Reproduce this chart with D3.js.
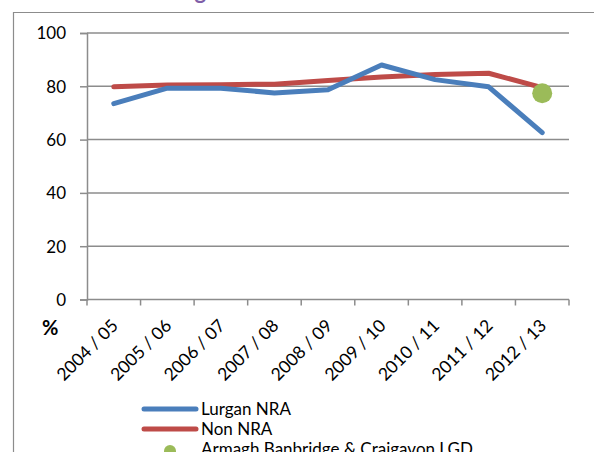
<!DOCTYPE html>
<html>
<head>
<meta charset="utf-8">
<script src="https://cdn.jsdelivr.net/npm/d3@7"></script>
<style>
  body { margin: 0; background: #fff; }
  svg text { font-family: Lato, "Open Sans", sans-serif; }
</style>
</head>
<body>
<div id="display"></div>
<script>
// data
let years = ['2004 / 05', '2005 / 06', '2006 / 07', '2007 / 08', '2008 / 09',
             '2009 / 10', '2010 / 11', '2011 / 12', '2012 / 13'];
let lurgan = [73.5, 79.3, 79.3, 77.5, 78.7, 88, 82.5, 79.8, 62.6];
let nonNra = [79.8, 80.5, 80.6, 80.8, 82.2, 83.5, 84.4, 84.9, 79.5];
let lgdYear = '2012 / 13';
let lgdValue = 77.4;
let yTicks = [0, 20, 40, 60, 80, 100];

// dimensions
let W = 594, H = 452;
let margin = {top: 33, left: 87, right: 25, bottom: 152};
let width = 569 - margin.left;
let height = 299.5 - margin.top;

let svg = d3.select('#display')
    .append('svg')
        .attr('width', W)
        .attr('height', H);

// title (mostly above the visible area) and frame
svg.append('text')
    .attr('x', 34).attr('y', -1)
    .style('font-size', '22px').style('font-weight', 'bold')
    .style('fill', '#7F5FA8')
    .text('Leavers achieving 5+ GCSEs');

svg.append('path')
    .attr('d', 'M13.5,' + H + 'V12.5H' + W)
    .attr('fill', 'none')
    .attr('stroke', '#8c8c8c')
    .attr('stroke-width', 1.2);

let g = svg.append('g')
    .attr('transform', 'translate(' + margin.left + ',' + margin.top + ')');

// scales
let x = d3.scaleBand().domain(years).range([0, width]);
let y = d3.scaleLinear().domain([0, 100]).range([height, 0]);

// gridlines
g.append('g')
    .selectAll('line')
    .data(yTicks.filter(d => d > 0))
    .enter()
    .append('line')
        .attr('x1', 0).attr('x2', width)
        .attr('y1', d => y(d)).attr('y2', d => y(d))
        .attr('stroke', '#8c8c8c')
        .attr('stroke-width', 1.5);

// y axis
let yAxis = g.append('g')
    .call(d3.axisLeft(y).tickValues(yTicks).tickSize(7).tickPadding(14));
yAxis.select('.domain').attr('stroke', '#8c8c8c').attr('stroke-width', 1.5);
yAxis.selectAll('.tick line').attr('stroke', '#8c8c8c').attr('stroke-width', 1.5);
yAxis.selectAll('.tick text')
    .style('font-size', '17px').style('fill', '#000')
    .attr('dy', '0.35em');

// x axis
let xTickPos = years.map(d => x(d)).concat([width]);
let xAxis = g.append('g')
    .attr('transform', 'translate(0,' + height + ')');
xAxis.append('line')
    .attr('x1', 0).attr('x2', width)
    .attr('stroke', '#8c8c8c').attr('stroke-width', 1.5);
xAxis.selectAll('.xt')
    .data(xTickPos)
    .enter()
    .append('line')
        .attr('x1', d => d).attr('x2', d => d)
        .attr('y1', 0).attr('y2', 6)
        .attr('stroke', '#8c8c8c').attr('stroke-width', 1.5);
xAxis.selectAll('text')
    .data(years)
    .enter()
    .append('text')
        .attr('transform', d => 'translate(' + (x(d) + x.bandwidth() / 2 + 1) + ',23) rotate(-45)')
        .attr('text-anchor', 'end')
        .attr('dy', '0.35em')
        .style('font-size', '17.5px')
        .text(d => d);

// % label
svg.append('text')
    .attr('x', 42).attr('y', 335)
    .style('font-size', '20px').style('font-weight', 'bold')
    .text('%');

// lines
let line = d3.line()
    .x((d, i) => x(years[i]) + x.bandwidth() / 2)
    .y(d => y(d));

g.append('path')
    .datum(nonNra)
    .attr('d', line)
    .attr('fill', 'none')
    .attr('stroke', '#BE4B48')
    .attr('stroke-width', 5)
    .attr('stroke-linejoin', 'round')
    .attr('stroke-linecap', 'round');

g.append('path')
    .datum(lurgan)
    .attr('d', line)
    .attr('fill', 'none')
    .attr('stroke', '#4A7EBB')
    .attr('stroke-width', 5)
    .attr('stroke-linejoin', 'round')
    .attr('stroke-linecap', 'round');

g.append('circle')
    .attr('cx', x(lgdYear) + x.bandwidth() / 2)
    .attr('cy', y(lgdValue))
    .attr('r', 10)
    .attr('fill', '#9BBB59');

// legend
let legend = [
    {name: 'Lurgan NRA', color: '#4A7EBB', type: 'line'},
    {name: 'Non NRA', color: '#BE4B48', type: 'line'},
    {name: 'Armagh Banbridge & Craigavon LGD', color: '#9BBB59', type: 'dot'}
];
let lg = svg.append('g').attr('transform', 'translate(144,409)');
lg.selectAll('g')
    .data(legend)
    .enter()
    .append('g')
        .attr('transform', (d, i) => 'translate(0,' + (i * 20) + ')')
        .each(function(d) {
            let item = d3.select(this);
            if (d.type === 'line') {
                item.append('line')
                    .attr('x1', 0).attr('x2', 52)
                    .attr('stroke', d.color)
                    .attr('stroke-width', 5)
                    .attr('stroke-linecap', 'round');
            } else {
                item.append('circle')
                    .attr('cx', 26).attr('cy', 2)
                    .attr('r', 6)
                    .attr('fill', d.color);
            }
            item.append('text')
                .attr('x', 57).attr('dy', '0.35em')
                .style('font-size', '17px')
                .text(d.name);
        });
</script>
</body>
</html>
